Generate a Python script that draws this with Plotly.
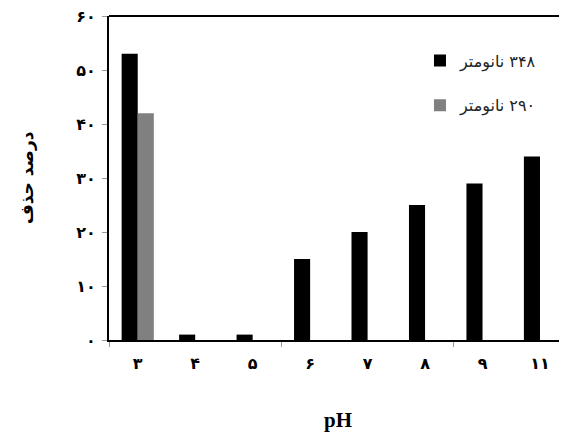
import plotly.graph_objects as go

categories = ["۳", "۴", "۵", "۶", "۷", "۸", "۹", "۱۱"]
series_348 = [53, 1, 1, 15, 20, 25, 29, 34]
series_290 = [42, 0, 0, 0, 0, 0, 0, 0]
name_348 = "\u200f۳۴۸ نانومتر"
name_290 = "\u200f۲۹۰ نانومتر"
y_ticks = [0, 10, 20, 30, 40, 50, 60]
y_ticklabels = ["۰", "۱۰", "۲۰", "۳۰", "۴۰", "۵۰", "۶۰"]
x_title = "pH"
y_title = "درصد حذف"

xpos = list(range(len(categories)))

fig = go.Figure()
fig.add_trace(go.Bar(x=xpos, y=series_348, name=name_348, marker_color="#000000",
                     marker_line_width=0, legendgroup="a"))
fig.add_trace(go.Bar(x=xpos, y=series_290, name=name_290, marker_color="#808080",
                     marker_line_width=0, legendgroup="b"))

fig.update_layout(
    width=559, height=424,
    margin=dict(l=101, r=0, t=8, b=92, autoexpand=False),
    paper_bgcolor="white", plot_bgcolor="white",
    barmode="group", bargap=0.44, bargroupgap=0,
    showlegend=True,
    legend=dict(x=0.679, y=0.915, xanchor="left", yanchor="top",
                font=dict(family="DejaVu Sans", size=16, color="#222"),
                tracegroupgap=21, bgcolor="rgba(0,0,0,0)"),
    font=dict(family="DejaVu Sans", color="black"),
)
fig.update_xaxes(
    range=[-0.5, 7.47], tickmode="array", tickvals=xpos, ticktext=categories,
    tickfont=dict(family="DejaVu Sans", size=16, weight="bold", color="black"),
    showline=True, linecolor="black", linewidth=2, ticks="", showgrid=False,
    zeroline=False, ticklabelstandoff=8, ticklabeloverflow="allow",
    minor=dict(tick0=-0.5, dtick=3, ticks="outside", ticklen=5, tickcolor="#999", showgrid=False),
    title=dict(text=x_title, font=dict(family="Liberation Serif", size=21, weight="bold"), standoff=40),
)
fig.update_yaxes(
    range=[0, 60], tickmode="array", tickvals=y_ticks, ticktext=y_ticklabels,
    tickfont=dict(family="DejaVu Sans", size=16, weight="bold", color="black"),
    showline=True, linecolor="black", linewidth=2, ticks="outside", ticklen=5,
    tickcolor="#999", showgrid=False, zeroline=False, ticklabelstandoff=3,
    ticklabeloverflow="allow",
)
fig.add_shape(type="line", xref="paper", yref="paper", x0=0, x1=1, y0=1, y1=1,
              line=dict(color="black", width=2))
fig.add_annotation(text=y_title, xref="paper", yref="paper", x=-0.179, y=0.50,
                   xanchor="center", yanchor="middle",
                   textangle=-90, showarrow=False,
                   font=dict(family="DejaVu Sans", size=17, weight="bold", color="black"))

fig.write_html("out.html")
